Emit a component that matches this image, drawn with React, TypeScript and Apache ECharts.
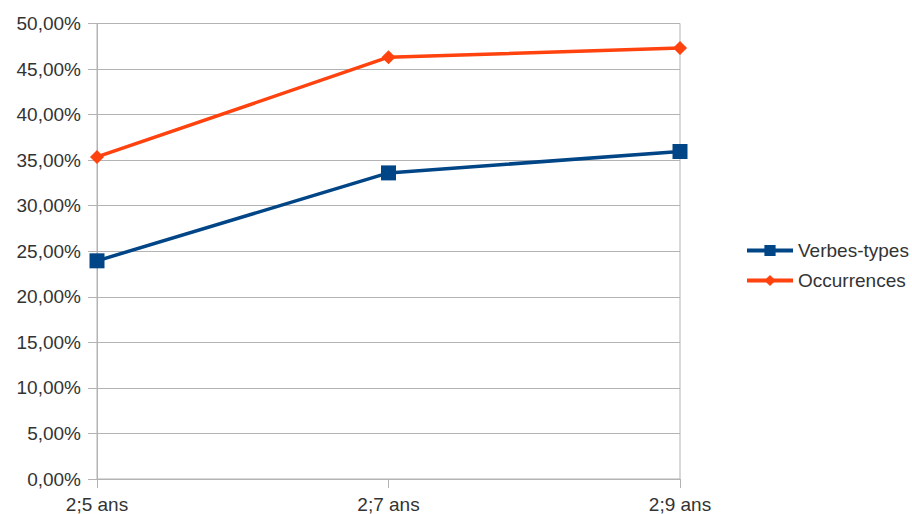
import React, { useEffect, useRef } from "react";
import * as echarts from "echarts";

const categories = ["2;5 ans", "2;7 ans", "2;9 ans"];
const verbesTypes = [23.95, 33.6, 35.95];
const occurrences = [35.35, 46.3, 47.3];
const seriesNames = ["Verbes-types", "Occurrences"];

const FONT = "'Liberation Sans', Arial, sans-serif";
const GRID = "#b3b3b3";

export default function App() {
  const ref = useRef<HTMLDivElement>(null);
  useEffect(() => {
    if (!ref.current) return;
    const chart = echarts.init(ref.current, null, { renderer: "svg" });
    chart.setOption({
      animation: false,
      backgroundColor: "#ffffff",
      textStyle: { fontFamily: FONT },
      grid: {
        left: 97,
        right: 232,
        top: 23.5,
        bottom: 35,
        show: true,
        borderColor: GRID,
        borderWidth: 1,
      },
      legend: {
        orient: "vertical",
        left: 740,
        top: 236,
        itemWidth: 46,
        itemHeight: 14,
        itemGap: 11,
        lineStyle: { width: 4 },
        textStyle: { fontSize: 19, color: "#333333", fontFamily: FONT },
        data: seriesNames,
      },
      xAxis: {
        type: "category",
        data: categories,
        boundaryGap: false,
        axisLine: { lineStyle: { color: GRID, width: 1 } },
        axisTick: { show: true, length: 9, lineStyle: { color: GRID } },
        axisLabel: { fontSize: 19, color: "#333333", margin: 16, fontFamily: FONT },
        splitLine: { show: false },
      },
      yAxis: {
        type: "value",
        min: 0,
        max: 50,
        interval: 5,
        axisLine: { show: true, lineStyle: { color: GRID, width: 1 } },
        axisTick: { show: true, length: 9, lineStyle: { color: GRID } },
        axisLabel: {
          fontSize: 19,
          color: "#333333",
          margin: 16,
          fontFamily: FONT,
          formatter: (v: number) => v.toFixed(2).replace(".", ",") + "%",
        },
        splitLine: { show: true, lineStyle: { color: GRID, width: 1 } },
      },
      series: [
        {
          name: seriesNames[0],
          type: "line",
          data: verbesTypes,
          symbol: "rect",
          symbolSize: 15,
          lineStyle: { color: "#004586", width: 3.5 },
          itemStyle: { color: "#004586" },
        },
        {
          name: seriesNames[1],
          type: "line",
          data: occurrences,
          symbol: "diamond",
          symbolSize: 14,
          lineStyle: { color: "#ff420e", width: 3.5 },
          itemStyle: { color: "#ff420e" },
        },
      ],
    });
    return () => chart.dispose();
  }, []);
  return <div ref={ref} style={{ width: 912, height: 514, position: "fixed", left: 0, top: 0 }} />;
}
